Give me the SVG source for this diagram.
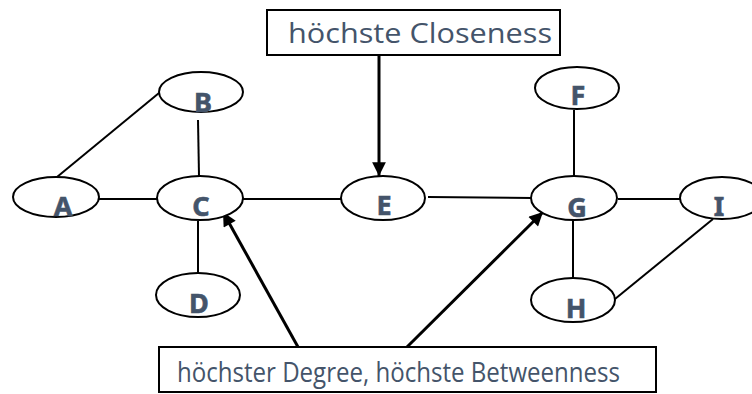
<svg xmlns="http://www.w3.org/2000/svg" width="752" height="394" viewBox="0 0 752 394">
  <style>
    .node ellipse { fill: #ffffff; stroke: #000000; stroke-width: 2; }
    .node text { font-family: "Noto Sans", "Open Sans", "Liberation Sans", sans-serif; font-weight: bold; font-size: 27px; fill: #44546A; stroke: #44546A; stroke-width: 0.6; text-anchor: middle; }
    .edge { stroke: #000000; stroke-width: 2; fill: none; }
    .pointer { stroke: #000000; stroke-width: 3; fill: none; marker-end: url(#head); }
    .note rect { fill: #ffffff; stroke: #000000; stroke-width: 2; }
    .note text { font-family: "Open Sans", "Liberation Sans", sans-serif; font-size: 28px; fill: #44546A; }
  </style>
  <defs>
    <marker id="head" viewBox="0 0 10 10" refX="10" refY="5" markerWidth="5.2" markerHeight="4.6" orient="auto" markerUnits="strokeWidth">
      <path d="M0,0 L10,5 L0,10 z" fill="#000000"/>
    </marker>
  </defs>
  <rect width="752" height="394" fill="#ffffff"/>

  <!-- graph edges -->
  <g id="edges">
    <line class="edge" x1="57" y1="177" x2="159" y2="93"/>
    <line class="edge" x1="198" y1="120" x2="199" y2="176"/>
    <line class="edge" x1="99" y1="199" x2="157" y2="199"/>
    <line class="edge" x1="198" y1="221" x2="198" y2="273"/>
    <line class="edge" x1="243" y1="199" x2="341" y2="199"/>
    <line class="edge" x1="428" y1="197" x2="532" y2="198"/>
    <line class="edge" x1="574" y1="110" x2="574" y2="177"/>
    <line class="edge" x1="573" y1="220" x2="573" y2="278"/>
    <line class="edge" x1="618" y1="199" x2="680" y2="199"/>
    <line class="edge" x1="713" y1="219" x2="615" y2="299"/>
  </g>

  <!-- annotation pointers -->
  <g id="pointers">
    <line class="pointer" x1="379" y1="52" x2="379" y2="176"/>
    <line class="pointer" x1="298" y1="347" x2="223" y2="212"/>
    <line class="pointer" x1="407" y1="347" x2="543" y2="212"/>
  </g>

  <g id="node-A" class="node"><ellipse cx="56" cy="197" rx="43" ry="20"/><text x="63" y="216">A</text></g>
  <g id="node-B" class="node"><ellipse cx="201" cy="92" rx="42" ry="20"/><text x="203" y="112">B</text></g>
  <g id="node-C" class="node"><ellipse cx="200" cy="198" rx="43" ry="22"/><text x="201" y="216">C</text></g>
  <g id="node-D" class="node"><ellipse cx="198" cy="295" rx="42" ry="22"/><text x="199" y="313">D</text></g>
  <g id="node-E" class="node"><ellipse cx="383" cy="198" rx="42" ry="22"/><text x="384" y="215">E</text></g>
  <g id="node-F" class="node"><ellipse cx="577" cy="88" rx="42" ry="21"/><text x="578" y="105">F</text></g>
  <g id="node-G" class="node"><ellipse cx="574" cy="198" rx="43" ry="22"/><text x="577" y="217">G</text></g>
  <g id="node-H" class="node"><ellipse cx="573" cy="300" rx="42" ry="22"/><text x="576" y="318">H</text></g>
  <g id="node-I" class="node"><ellipse cx="722" cy="198" rx="42" ry="21"/><text x="719" y="216">I</text></g>

  <g id="note-closeness" class="note">
    <rect x="267" y="10" width="293" height="45"/>
    <text x="288" y="43" textLength="264" lengthAdjust="spacingAndGlyphs">höchste Closeness</text>
  </g>
  <g id="note-degree" class="note">
    <rect x="159" y="347" width="497" height="45"/>
    <text x="177" y="382" textLength="443" lengthAdjust="spacingAndGlyphs">höchster Degree, höchste Betweenness</text>
  </g>
</svg>
